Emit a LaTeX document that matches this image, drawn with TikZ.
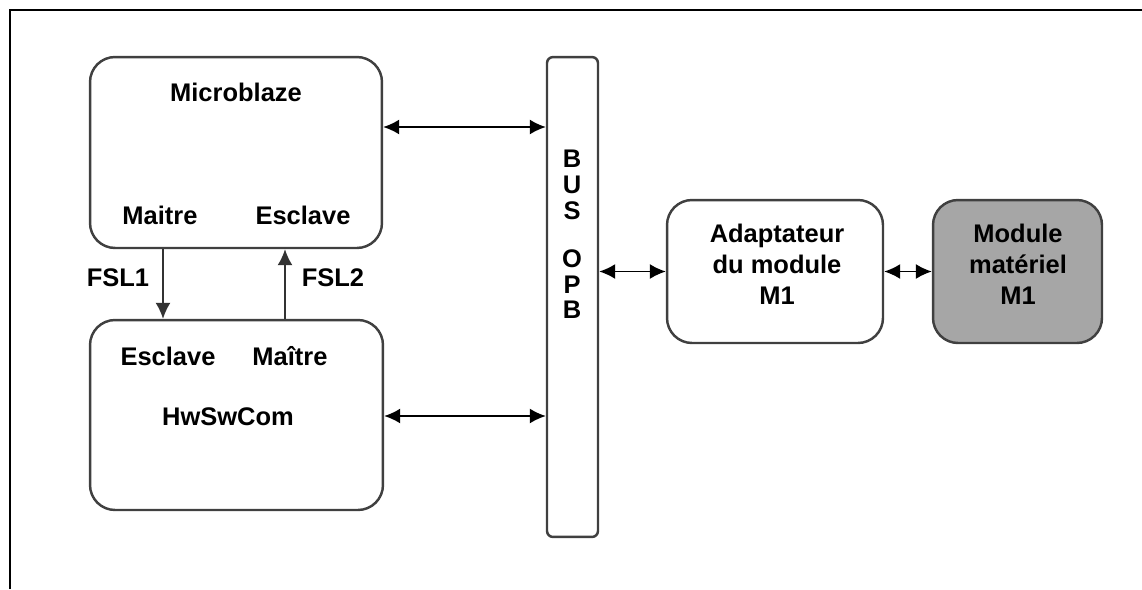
\documentclass[tikz,border=0pt]{standalone}
\usepackage{fontspec}
\setmainfont{Liberation Sans}
\usetikzlibrary{arrows.meta}

\begin{document}
\begin{tikzpicture}[x=0.02cm, y=-0.02cm,
  blk/.style={draw=black!75, line width=1.4pt, rounded corners=0.5cm, inner sep=0pt},
  txt/.style={font=\bfseries\fontsize{14.5}{17.6}\selectfont, align=center, inner sep=0pt},
  link/.style={line width=0.9pt, {Latex[length=3.2mm,width=3mm]}-{Latex[length=3.2mm,width=3mm]}},
  fsl/.style={line width=0.9pt, black!80, -{Latex[length=3.2mm,width=3mm]}}]
% Page size and the two visible frame edges (scan is cropped)
\useasboundingbox (0,0) rectangle (1142,589);
\draw[line width=1.1pt] (10,589) -- (10,10) -- (1142,10);

% Blocks (pixel coordinates, y downwards)
\node[blk, minimum width=5.84cm, minimum height=3.82cm] (micro) at (236,152.5) {};
\node[blk, minimum width=5.86cm, minimum height=3.80cm] (hwsw) at (236.5,415) {};
\node[blk, rounded corners=0.12cm, minimum width=1.02cm, minimum height=9.6cm] (bus) at (572.5,297) {};
\node[blk, minimum width=4.32cm, minimum height=2.86cm] (adapt) at (775,271.5) {};
\node[blk, fill=black!35, minimum width=3.38cm, minimum height=2.86cm] (module) at (1017.5,271.5) {};

% Texts
\node[txt] (microlbl) at (236,92) {Microblaze};
\node[txt] (mmaitre) at (160,215) {Maitre};
\node[txt] (mesclave) at (303,215) {Esclave};
\node[txt] (hesclave) at (168,356) {Esclave};
\node[txt] (hmaitre) at (290,356) {Maître};
\node[txt] (hwswlbl) at (228,417) {HwSwCom};
\node[txt, font=\bfseries\fontsize{14.5}{14.7}\selectfont] (buslbl) at (572,234.5) {B\\U\\S\\[0.44cm]O\\P\\B};
\node[txt] (adaptlbl) at (777,264) {Adaptateur\\du module\\M1};
\node[txt] (modlbl) at (1018,264) {Module\\matériel\\M1};
\node[txt] (fsl1lbl) at (118,278) {FSL1};
\node[txt] (fsl2lbl) at (333,278) {FSL2};

% Connectors
\coordinate (mb) at (0,127);
\coordinate (hb) at (0,416);
\coordinate (fa) at (163,0);
\coordinate (fb) at (285,0);
\draw[link] (micro.east |- mb) -- (bus.west |- mb);
\draw[link] (hwsw.east |- hb) -- (bus.west |- hb);
\draw[link] (bus.east |- adapt.west) -- (adapt.west);
\draw[link] (adapt.east) -- (module.west);
\draw[fsl] (micro.south -| fa) -- (hwsw.north -| fa);
\draw[fsl] (hwsw.north -| fb) -- (micro.south -| fb);
\end{tikzpicture}
\end{document}
